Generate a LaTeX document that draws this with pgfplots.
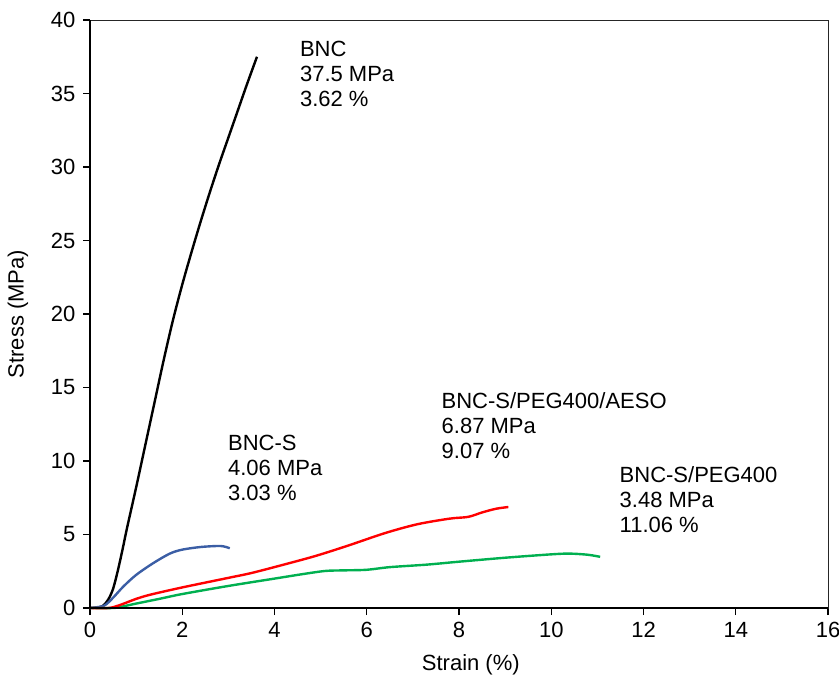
\documentclass[border=0pt]{standalone}
\usepackage{fontspec}
\setmainfont{Liberation Sans}
\usepackage{pgfplots}
\pgfplotsset{compat=1.18}
\definecolor{cblue}{RGB}{59,94,165}
\definecolor{cgreen}{RGB}{0,176,80}
\newcommand{\fs}{\fontsize{22bp}{25bp}\selectfont}
\begin{document}
\fs
\begin{tikzpicture}
\begin{axis}[
  width=738bp, height=588bp, scale only axis,
  xmin=0, xmax=16, ymin=0, ymax=40,
  xtick={0,2,...,16}, ytick={0,5,...,40},
  tick align=outside, xtick pos=bottom, ytick pos=left,
  major tick length=7bp,
  tick style={line width=1.2bp, black},
  axis line style={line width=0.9bp, black!85},
  /pgf/number format/assume math mode=true,
  ticklabel style={font=\fs},
  xlabel={Strain (\%)}, ylabel={Stress (MPa)},
  label style={font=\fs, inner sep=0pt},
  xlabel style={at={(axis description cs:0.516,-0.097)}, anchor=center},
  ylabel style={at={(axis description cs:-0.0976,0.5)}, anchor=center, rotate=0},
  every axis plot/.append style={line width=2.4bp, smooth, tension=0.5},
  clip=false,
]
% BNC
\addplot[black] coordinates {
(0,0) (0.2,0.05) (0.3,0.2) (0.4,0.6) (0.5,1.3) (0.6,2.5) (0.7,3.9) (0.8,5.4)
(1.0,8.2) (1.2,11.1) (1.4,14.0) (1.6,16.9) (1.8,19.6) (2.0,22.0) (2.2,24.2)
(2.4,26.3) (2.6,28.3) (2.8,30.2) (3.0,32.0) (3.2,33.8) (3.4,35.6) (3.62,37.5)};
% BNC-S
\addplot[cblue] coordinates {
(0,0) (0.3,0.15) (0.5,0.7) (0.72,1.45) (1.0,2.25) (1.37,3.05) (1.73,3.7)
(2.0,3.97) (2.4,4.15) (2.8,4.22) (2.95,4.15) (3.03,4.06)};
% BNC-S/PEG400
\addplot[cgreen] coordinates {
(0,0) (0.5,0) (0.7,0.1) (1.0,0.3) (1.5,0.62) (2.0,0.95) (3.0,1.5) (4.0,2.0)
(4.6,2.3) (5.1,2.52) (5.5,2.56) (6.0,2.6) (6.5,2.78) (7.3,2.95) (8.0,3.15)
(9.0,3.42) (10.0,3.65) (10.4,3.7) (10.8,3.62) (11.06,3.48)};
% BNC-S/PEG400/AESO
\addplot[red] coordinates {
(0,0) (0.4,0) (0.6,0.15) (0.8,0.38) (1.0,0.62) (1.3,0.9) (2.0,1.4) (3.0,2.05)
(3.5,2.38) (4.2,2.95) (4.9,3.55) (5.6,4.25) (6.4,5.1) (7.1,5.7) (7.8,6.08)
(8.2,6.2) (8.5,6.5) (8.8,6.75) (9.07,6.87)};
\draw[line width=2bp, black] (rel axis cs:0,0) -- (rel axis cs:0,1);
\draw[line width=2bp, black] (rel axis cs:0,0) -- (rel axis cs:1,0);
\coordinate (bl) at (rel axis cs:0,0);
\coordinate (tr) at (rel axis cs:1,1);
\node[anchor=north west, inner sep=0pt, align=left, font=\fs] at (axis cs:4.55,38.6) {BNC\\37.5 MPa\\3.62 \%};
\node[anchor=north west, inner sep=0pt, align=left, font=\fs] at (axis cs:2.99,11.75) {BNC-S\\4.06 MPa\\3.03 \%};
\node[anchor=north west, inner sep=0pt, align=left, font=\fs] at (axis cs:7.62,14.7) {BNC-S/PEG400/AESO\\6.87 MPa\\9.07 \%};
\node[anchor=north west, inner sep=0pt, align=left, font=\fs] at (axis cs:11.48,9.65) {BNC-S/PEG400\\3.48 MPa\\11.06 \%};
\end{axis}
\pgfresetboundingbox
\path ([shift={(-90bp,-70bp)}]bl) rectangle ([shift={(11bp,20bp)}]tr);
\end{tikzpicture}
\end{document}
